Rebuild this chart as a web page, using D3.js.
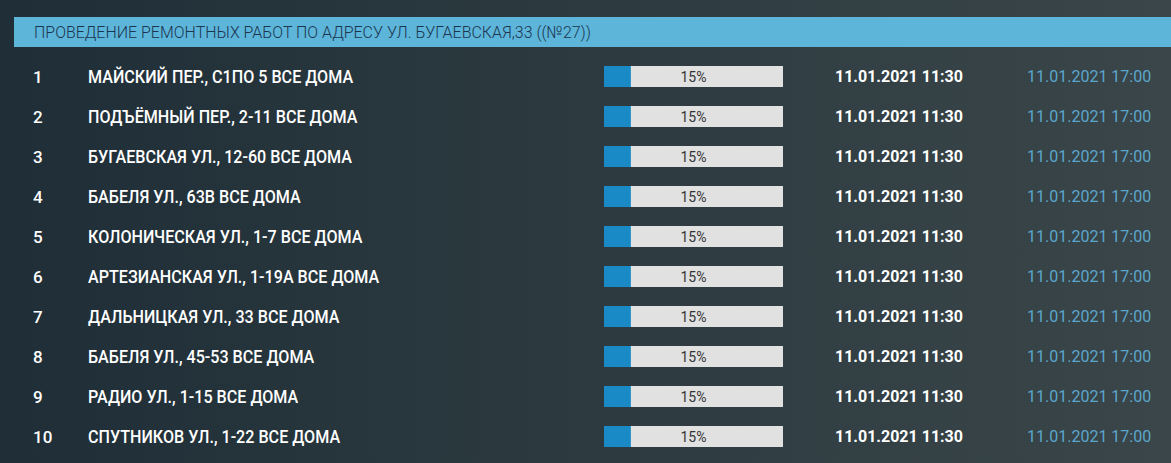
<!DOCTYPE html>
<html>
<head>
<meta charset="utf-8">
<script src="https://cdn.jsdelivr.net/npm/d3@7"></script>
<style>
  html, body { margin: 0; padding: 0; background: #26343c; overflow: hidden; }
  svg { display: block; font-family: Roboto, "Noto Sans", sans-serif; }
</style>
</head>
<body>
<svg id="chart" width="1171" height="463"></svg>
<script>
// data
const title = "ПРОВЕДЕНИЕ РЕМОНТНЫХ РАБОТ ПО АДРЕСУ УЛ. БУГАЕВСКАЯ,33 ((№27))"
const rowIds = [1, 2, 3, 4, 5, 6, 7, 8, 9, 10]
const addresses = [
    "МАЙСКИЙ ПЕР., С1ПО 5 ВСЕ ДОМА",
    "ПОДЪЁМНЫЙ ПЕР., 2-11 ВСЕ ДОМА",
    "БУГАЕВСКАЯ УЛ., 12-60 ВСЕ ДОМА",
    "БАБЕЛЯ УЛ., 63В ВСЕ ДОМА",
    "КОЛОНИЧЕСКАЯ УЛ., 1-7 ВСЕ ДОМА",
    "АРТЕЗИАНСКАЯ УЛ., 1-19А ВСЕ ДОМА",
    "ДАЛЬНИЦКАЯ УЛ., 33 ВСЕ ДОМА",
    "БАБЕЛЯ УЛ., 45-53 ВСЕ ДОМА",
    "РАДИО УЛ., 1-15 ВСЕ ДОМА",
    "СПУТНИКОВ УЛ., 1-22 ВСЕ ДОМА",
]
const progress = [15, 15, 15, 15, 15, 15, 15, 15, 15, 15]
const startTimes = [
    "11.01.2021 11:30", "11.01.2021 11:30", "11.01.2021 11:30", "11.01.2021 11:30", "11.01.2021 11:30",
    "11.01.2021 11:30", "11.01.2021 11:30", "11.01.2021 11:30", "11.01.2021 11:30", "11.01.2021 11:30",
]
const endTimes = [
    "11.01.2021 17:00", "11.01.2021 17:00", "11.01.2021 17:00", "11.01.2021 17:00", "11.01.2021 17:00",
    "11.01.2021 17:00", "11.01.2021 17:00", "11.01.2021 17:00", "11.01.2021 17:00", "11.01.2021 17:00",
]

const W = 1171, H = 463
const svg = d3.select("#chart")

// background gradient
const defs = svg.append("defs")
const grad = defs.append("linearGradient")
    .attr("id", "bg")
    .attr("x1", "0%").attr("y1", "0%")
    .attr("x2", "100%").attr("y2", "0%")
grad.append("stop").attr("offset", "0%").attr("stop-color", "#1f2e37")
grad.append("stop").attr("offset", "100%").attr("stop-color", "#3a4649")

svg.append("rect")
    .attr("width", W).attr("height", H)
    .attr("fill", "url(#bg)")

// header
svg.append("rect")
    .attr("x", 14).attr("y", 17)
    .attr("width", W - 14).attr("height", 30)
    .attr("fill", "#5db5da")

const titleText = svg.append("text")
    .attr("x", 34).attr("y", 38)
    .attr("fill", "#1b3550")
    .attr("font-size", 17)
    .attr("font-weight", 300)
    .text(title)
fitWidth(titleText, 557)

const rows = rowIds.map((id, i) => ({
    id: id,
    name: addresses[i],
    pct: progress[i],
    start: startTimes[i],
    end: endTimes[i],
}))

const y = d3.scalePoint()
    .domain(rowIds)
    .range([76.5, 436.5])

const x = d3.scaleLinear()
    .domain([0, 100])
    .range([604, 783])

const g = svg.append("g")
    .selectAll("g")
    .data(rows)
    .enter()
    .append("g")
    .attr("transform", d => "translate(0," + y(d.id) + ")")

g.append("text")
    .attr("x", 33).attr("dy", "0.36em")
    .attr("fill", "#ffffff")
    .attr("font-size", 17)
    .attr("font-weight", 500)
    .text(d => d.id)

g.append("text")
    .attr("class", "name")
    .attr("x", 88).attr("dy", "0.36em")
    .attr("fill", "#ffffff")
    .attr("font-size", 18)
    .attr("font-weight", 500)
    .text(d => d.name)

// compress names a bit, the original uses a condensed face
g.selectAll(".name").each(function () {
    d3.select(this)
        .attr("textLength", this.getComputedTextLength() * 0.895)
        .attr("lengthAdjust", "spacingAndGlyphs")
})

// progress bars
g.append("rect")
    .attr("x", x(0)).attr("y", -10.5)
    .attr("width", x(100) - x(0)).attr("height", 21)
    .attr("fill", "#e1e1e1")

g.append("rect")
    .attr("x", x(0)).attr("y", -10.5)
    .attr("width", d => x(d.pct) - x(0)).attr("height", 21)
    .attr("fill", "#1a8ac7")

g.append("text")
    .attr("x", x(50)).attr("dy", "0.36em")
    .attr("text-anchor", "middle")
    .attr("fill", "#333333")
    .attr("font-size", 14)
    .text(d => d.pct + "%")

g.append("text")
    .attr("x", 835).attr("dy", "0.36em")
    .attr("fill", "#ffffff")
    .attr("font-size", 16)
    .attr("font-weight", 700)
    .text(d => d.start)

g.append("text")
    .attr("x", 1027).attr("dy", "0.36em")
    .attr("fill", "#5ba6cc")
    .attr("font-size", 16)
    .text(d => d.end)

function fitWidth(sel, w) {
    sel.attr("textLength", w).attr("lengthAdjust", "spacingAndGlyphs")
}
</script>
</body>
</html>
